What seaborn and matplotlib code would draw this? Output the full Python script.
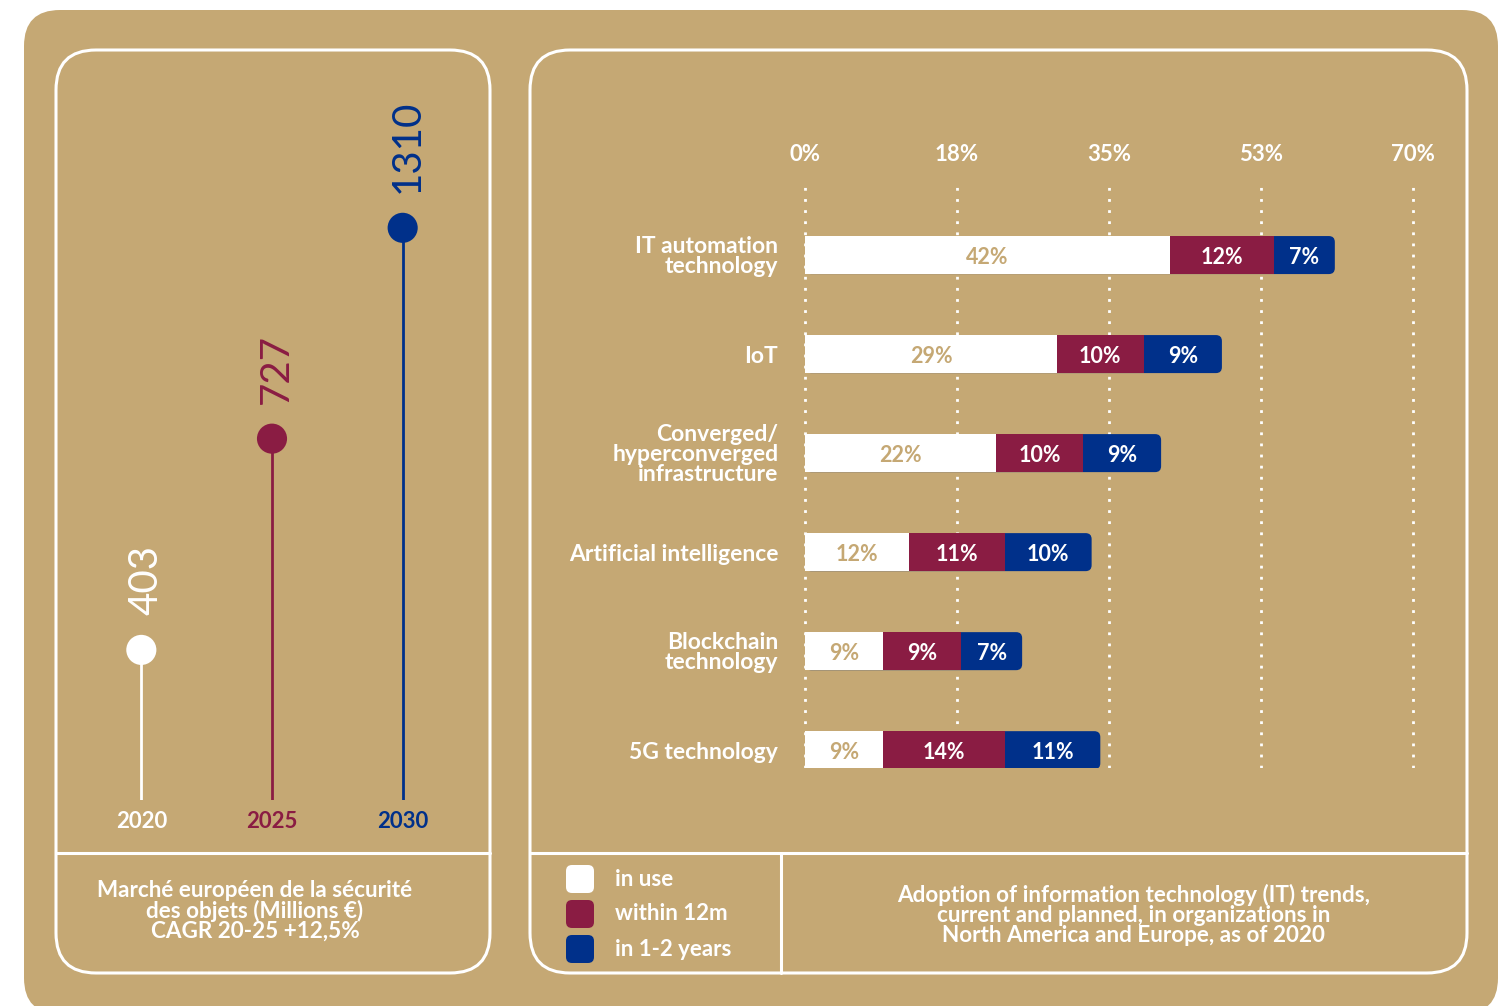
import numpy as np
import pandas as pd
import seaborn as sns
import matplotlib.pyplot as plt
from matplotlib.patches import FancyBboxPatch

# ---- data ----
years = ['2020', '2025', '2030']
market = [403, 727, 1310]

techs = ['IT automation\ntechnology', 'IoT', 'Converged/\nhyperconverged\ninfrastructure',
         'Artificial intelligence', 'Blockchain\ntechnology', '5G technology']
in_use = [42, 29, 22, 12, 9, 9]
within_12m = [12, 10, 10, 11, 9, 14]
in_1_2_years = [7, 9, 9, 10, 7, 11]
series_names = ['in use', 'within 12m', 'in 1-2 years']
x_ticks = [0, 17.5, 35, 52.5, 70]
x_tick_labels = ['0%', '18%', '35%', '53%', '70%']

TAN = '#C5A874'
WHITE = '#FFFFFF'
MAROON = '#8A1C43'
NAVY = '#00308A'
year_colors = [WHITE, MAROON, NAVY]
series_colors = [WHITE, MAROON, NAVY]

sns.set_style('white')
plt.rcParams['font.family'] = ['Lato', 'DejaVu Sans']

W, H = 1505, 1006
fig = plt.figure(figsize=(W / 100, H / 100), dpi=100)
fig.patch.set_facecolor('white')

# background / frames, pixel coordinates
bg = fig.add_axes([0, 0, 1, 1], zorder=0)
bg.set_xlim(0, W)
bg.set_ylim(H, 0)
bg.axis('off')


def rbox(x0, y0, x1, y1, r, **kw):
    bg.add_patch(FancyBboxPatch((x0, y0), x1 - x0, y1 - y0,
                                boxstyle=f'round,pad=0,rounding_size={r}', **kw))


rbox(24, 10, 1498, 1014, 36, fc=TAN, ec='none')
rbox(56, 50, 490, 973, 40, fc='none', ec='white', lw=2.2)
rbox(530, 50, 1467, 973, 40, fc='none', ec='white', lw=2.2)
bg.plot([56, 490], [853, 853], color='white', lw=2.2)
bg.plot([530, 1467], [853, 853], color='white', lw=2.2)
bg.plot([781, 781], [853, 973], color='white', lw=2.2)

bg.text(255, 911, 'Marché européen de la sécurité\ndes objets (Millions €)\nCAGR 20-25 +12,5%',
        ha='center', va='center', color='white', fontsize=16.2, fontweight='bold',
        linespacing=0.95)
bg.text(1134, 915, 'Adoption of information technology (IT) trends,\ncurrent and planned, in organizations in\nNorth America and Europe, as of 2020',
        ha='center', va='center', color='white', fontsize=16.2, fontweight='bold',
        linespacing=0.95)

# legend
for i, (name, c) in enumerate(zip(series_names, series_colors)):
    rbox(566, 865 + 35 * i, 594, 893 + 35 * i, 6, fc=c, ec='none')
    bg.text(615, 879 + 35 * i, name, va='center', ha='left', color='white',
            fontsize=16, fontweight='bold')

# ---- left: lollipop ----
axL = fig.add_axes([76 / W, (H - 800) / H, 392 / W, 710 / H], zorder=1)
axL.set_facecolor('none')
axL.set_yscale('log')
axL.set_ylim(265, 1925)
axL.set_xlim(-0.5, 2.5)
xpos = np.arange(len(years))
axL.vlines(xpos, axL.get_ylim()[0], market, colors=year_colors, lw=2)
sns.scatterplot(x=xpos, y=market, hue=years, palette=year_colors, s=470,
                edgecolor='none', legend=False, zorder=3, ax=axL)
for x, v, c in zip(xpos, market, year_colors):
    axL.annotate(str(v), (x, v), xytext=(3, 25), textcoords='offset points',
                 rotation=90, ha='center', va='bottom', color=c, fontsize=29)
axL.set_xticks(xpos, years)
axL.set_yticks([], minor=True)
axL.set_yticks([])
axL.tick_params(axis='x', length=0, pad=8, labelsize=16)
for lbl, c in zip(axL.get_xticklabels(), year_colors):
    lbl.set_color(c)
    lbl.set_fontweight('bold')
sns.despine(ax=axL, left=True, bottom=True)

# ---- right: stacked bars ----
df = pd.DataFrame({'tech': techs, 'in use': in_use, 'within 12m': within_12m,
                   'in 1-2 years': in_1_2_years})
df['c2'] = df['in use'] + df['within 12m']
df['c3'] = df['c2'] + df['in 1-2 years']

px_per = 608 / 70
axR = fig.add_axes([795 / W, (H - 768) / H, 628 / W, 588 / H], zorder=1)
axR.set_facecolor('none')
for col, c in zip(['c3', 'c2', 'in use'], [NAVY, MAROON, WHITE]):
    sns.barplot(data=df, y='tech', x=col, color=c, saturation=1, width=0.384,
                errorbar=None, linewidth=0, orient='h', ax=axR)

# round the right end of the outer bars
for p in axR.containers[0].patches:
    p.set_visible(False)
    axR.add_patch(FancyBboxPatch((p.get_x(), p.get_y()), p.get_width(), p.get_height(),
                                 boxstyle='round,pad=0,rounding_size=0.69',
                                 mutation_aspect=0.0878, fc=NAVY, ec='none',
                                 zorder=p.get_zorder() - 0.1))

starts = [np.zeros(len(techs)), df['in use'].values, df['c2'].values]
vals = [in_use, within_12m, in_1_2_years]
for k in range(3):
    for i in range(len(techs)):
        v = vals[k][i]
        axR.text(starts[k][i] + v / 2, i + 0.02, f'{v}%', ha='center', va='center',
                 color=TAN if k == 0 else 'white', fontsize=15.5, fontweight='bold')

axR.set_xlim(-10 / px_per, 70 + 10 / px_per)
axR.set_ylim(5.18, -0.758)
axR.xaxis.tick_top()
axR.set_xticks(x_ticks, x_tick_labels)
axR.tick_params(axis='x', length=0, pad=11, labelsize=16, labelcolor='white')
axR.tick_params(axis='y', length=0, pad=12, labelsize=16.5, labelcolor='white')
for lbl in axR.get_yticklabels():
    lbl.set_linespacing(0.92)
    lbl.set_fontweight('bold')
for lbl in axR.get_xticklabels():
    lbl.set_fontweight('bold')
axR.set_xlabel('')
axR.set_ylabel('')
axR.grid(axis='x', color='white', linestyle=(0, (1, 3)), lw=2)
axR.grid(axis='y', visible=False)
axR.set_axisbelow(True)
sns.despine(ax=axR, left=True, bottom=True)

fig.savefig('out.png', dpi=100)
